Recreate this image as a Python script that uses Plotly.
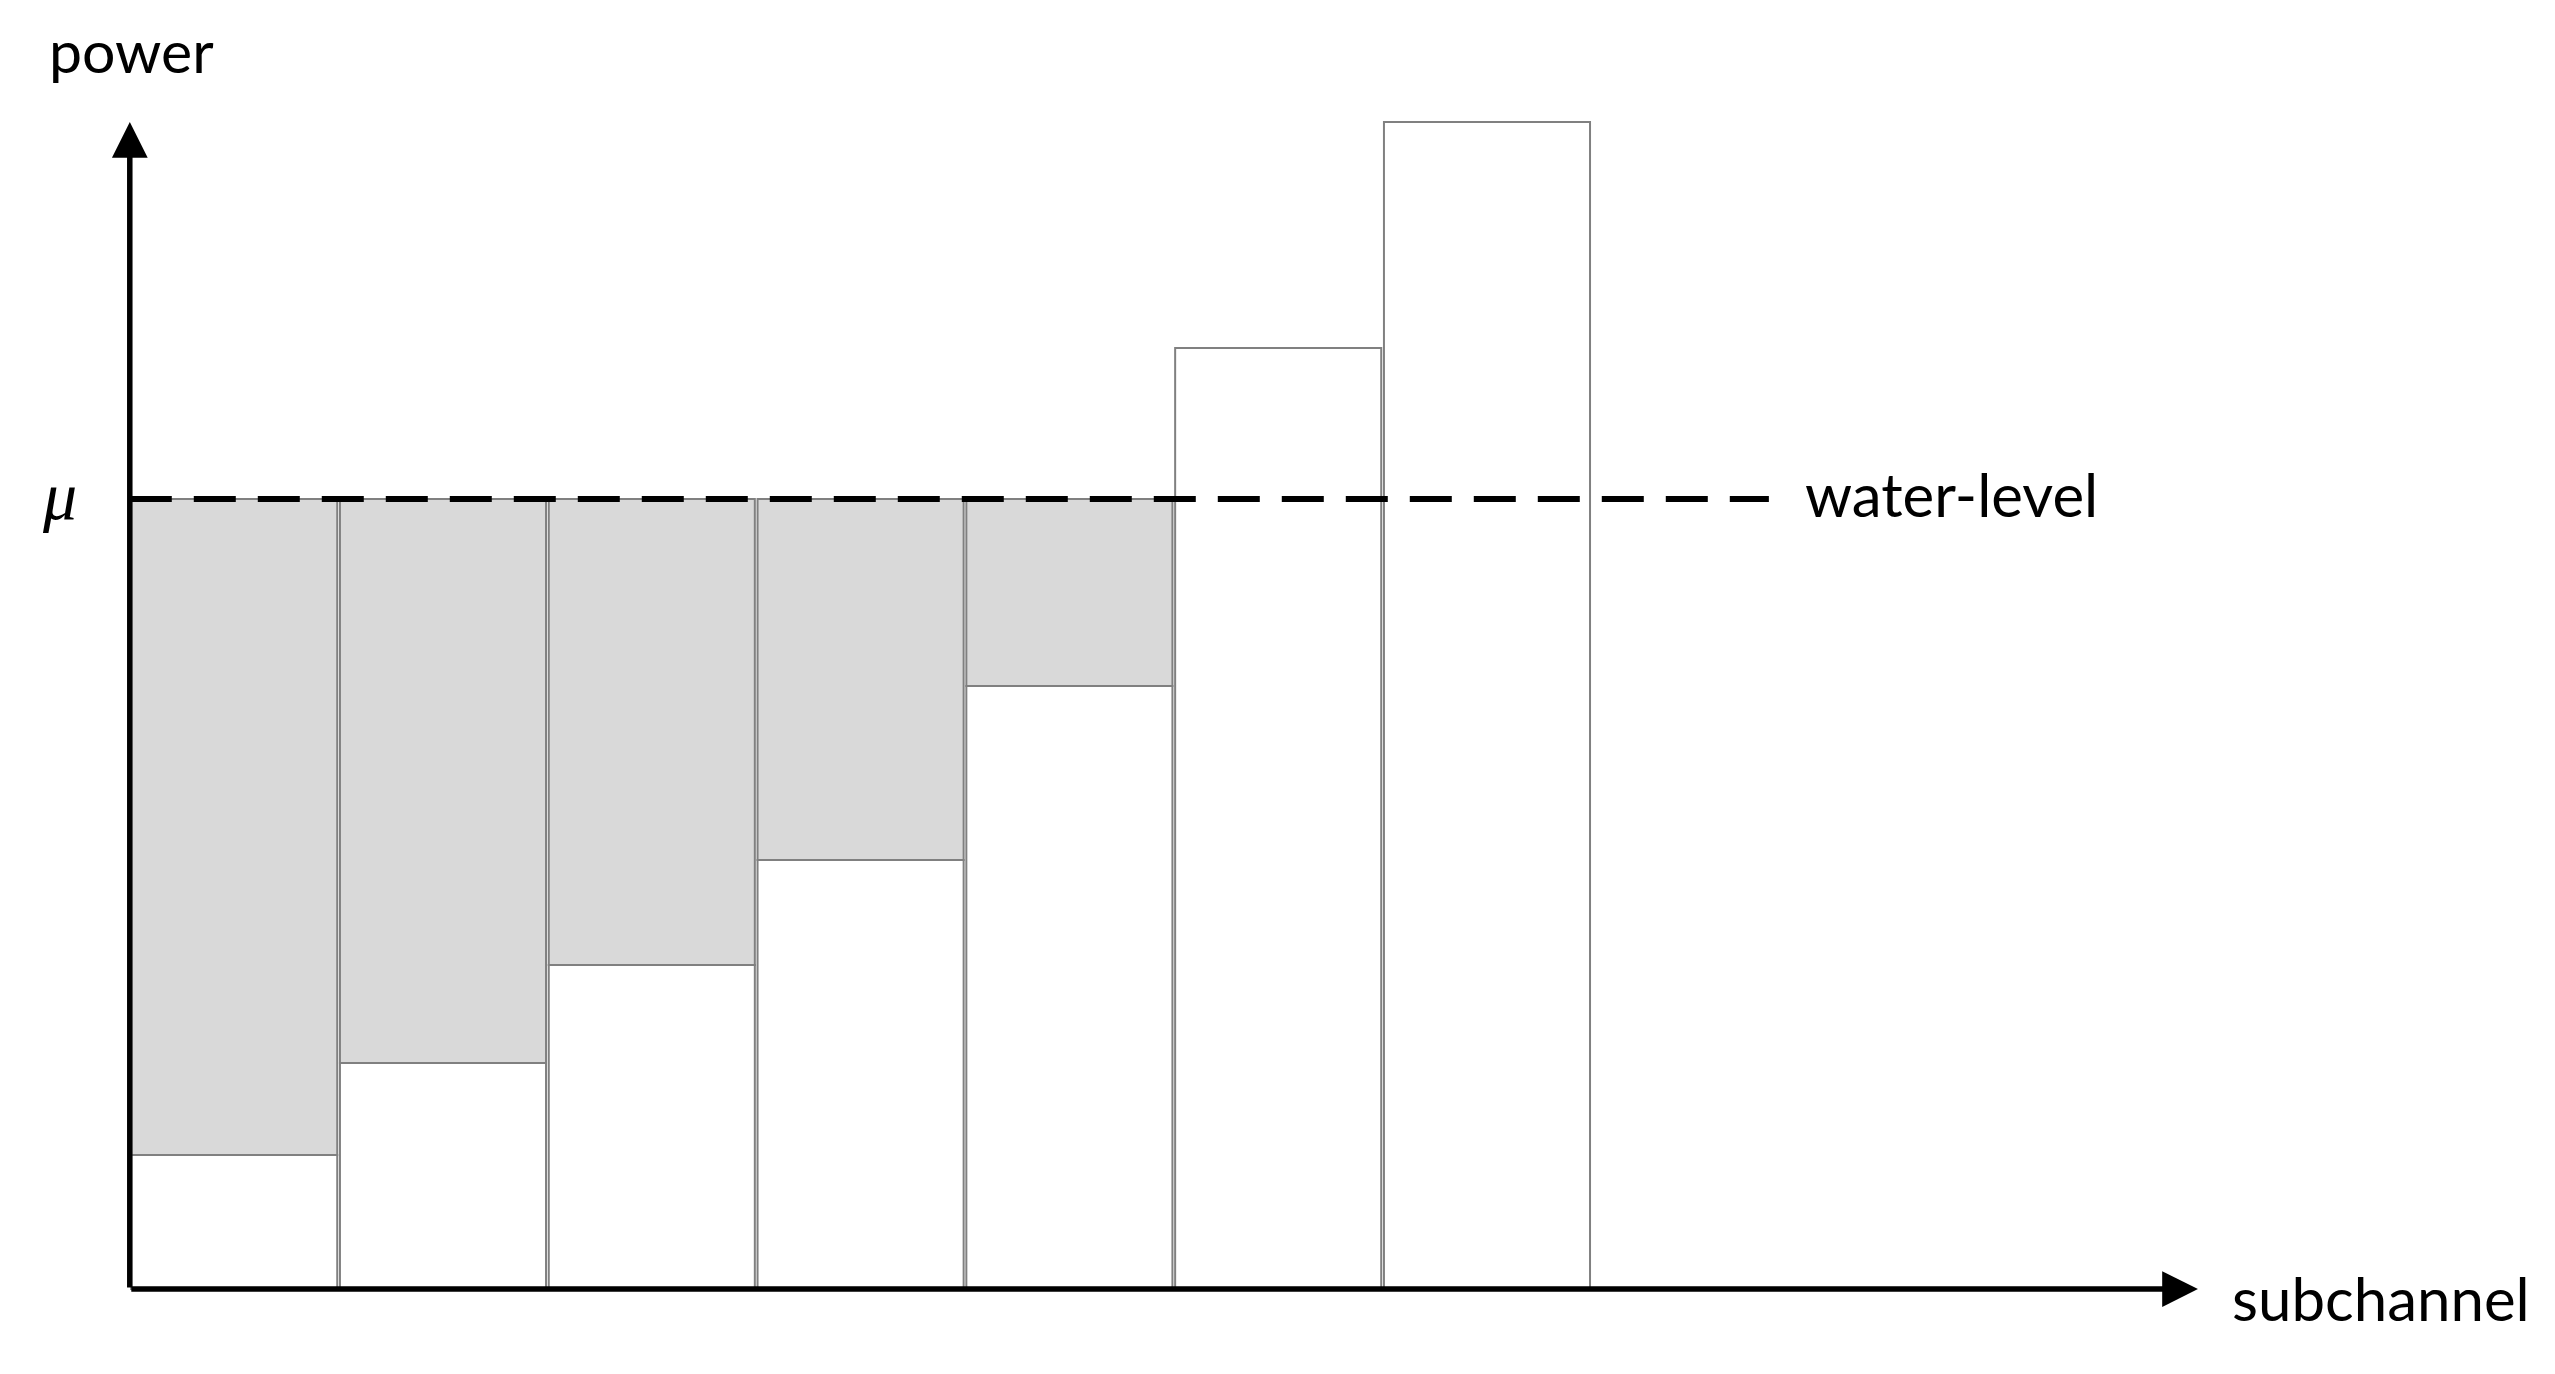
import plotly.graph_objects as go

# ---- data ----
subchannels = [1, 2, 3, 4, 5, 6, 7]
noise_level = [1.34, 2.26, 3.24, 4.29, 6.03, 9.41, 11.67]   # inverse channel gain per subchannel
mu = 7.90                                                   # water level
axis_label_x = "subchannel"
axis_label_y = "power"
mu_label = "μ"
level_label = "water-level"

# derived: water poured into each subchannel (only where noise < mu)
filled = [(s, n, mu - n) for s, n in zip(subchannels, noise_level) if n < mu]

FONT = "Lato"
GRAY_LINE = "#808080"
GRAY_FILL = "#D9D9D9"

fig = go.Figure()

fig.add_trace(go.Bar(
    x=subchannels, y=noise_level, base=0, width=0.987,
    marker=dict(color="white", line=dict(color=GRAY_LINE, width=2)),
    showlegend=False, hoverinfo="skip",
))
fig.add_trace(go.Bar(
    x=[f[0] for f in filled], y=[f[2] for f in filled], base=[f[1] for f in filled],
    width=0.987,
    marker=dict(color=GRAY_FILL, line=dict(color=GRAY_LINE, width=2)),
    showlegend=False, hoverinfo="skip",
))

# water level dashed line
fig.add_trace(go.Scatter(
    x=[0.5, 8.35], y=[mu, mu], mode="lines",
    line=dict(color="black", width=6, dash="42px,22px"),
    showlegend=False, hoverinfo="skip",
))

x_axis_origin = 0.5
x_arrow_end = 10.405
y_arrow_end = 11.67

annotations = [
    # x axis arrow
    dict(x=x_arrow_end, y=0, ax=x_axis_origin, ay=0, xref="x", yref="y", axref="x", ayref="y",
         showarrow=True, arrowhead=2, arrowsize=1.3, arrowwidth=5.5, arrowcolor="black", text="",
         standoff=0, startstandoff=0),
    # y axis arrow
    dict(x=x_axis_origin, y=y_arrow_end, ax=x_axis_origin, ay=0, xref="x", yref="y", axref="x", ayref="y",
         showarrow=True, arrowhead=2, arrowsize=1.3, arrowwidth=5.5, arrowcolor="black", text="",
         standoff=0, startstandoff=0),
    dict(x=0.51, y=12.39, xref="x", yref="y", text=axis_label_y, showarrow=False,
         xanchor="center", yanchor="middle", font=dict(family=FONT, size=59, color="black")),
    dict(x=10.56, y=-0.09, xref="x", yref="y", text=axis_label_x, showarrow=False,
         xanchor="left", yanchor="middle", font=dict(family=FONT, size=60, color="black")),
    dict(x=8.514, y=7.95, xref="x", yref="y", text=level_label, showarrow=False,
         xanchor="left", yanchor="middle", font=dict(family=FONT, size=60, color="black")),
    dict(x=0.161, y=7.93, xref="x", yref="y", text="<i>" + mu_label + "</i>", showarrow=False,
         xanchor="center", yanchor="middle", font=dict(family="Liberation Serif", size=68, color="black")),
]

# the page body has an 8px margin: size the figure so that it ends at the window edge
fig.update_layout(
    width=2547, height=1366,
    margin=dict(l=0, r=0, t=0, b=0),
    paper_bgcolor="white", plot_bgcolor="white",
    barmode="overlay",
    xaxis=dict(range=[-0.0833, 12.115], visible=False, showgrid=False, zeroline=False, fixedrange=True),
    yaxis=dict(range=[-0.85, 12.81], visible=False, showgrid=False, zeroline=False, fixedrange=True),
    annotations=annotations,
    showlegend=False,
)

fig.write_html("out.html", config={"displayModeBar": False})
